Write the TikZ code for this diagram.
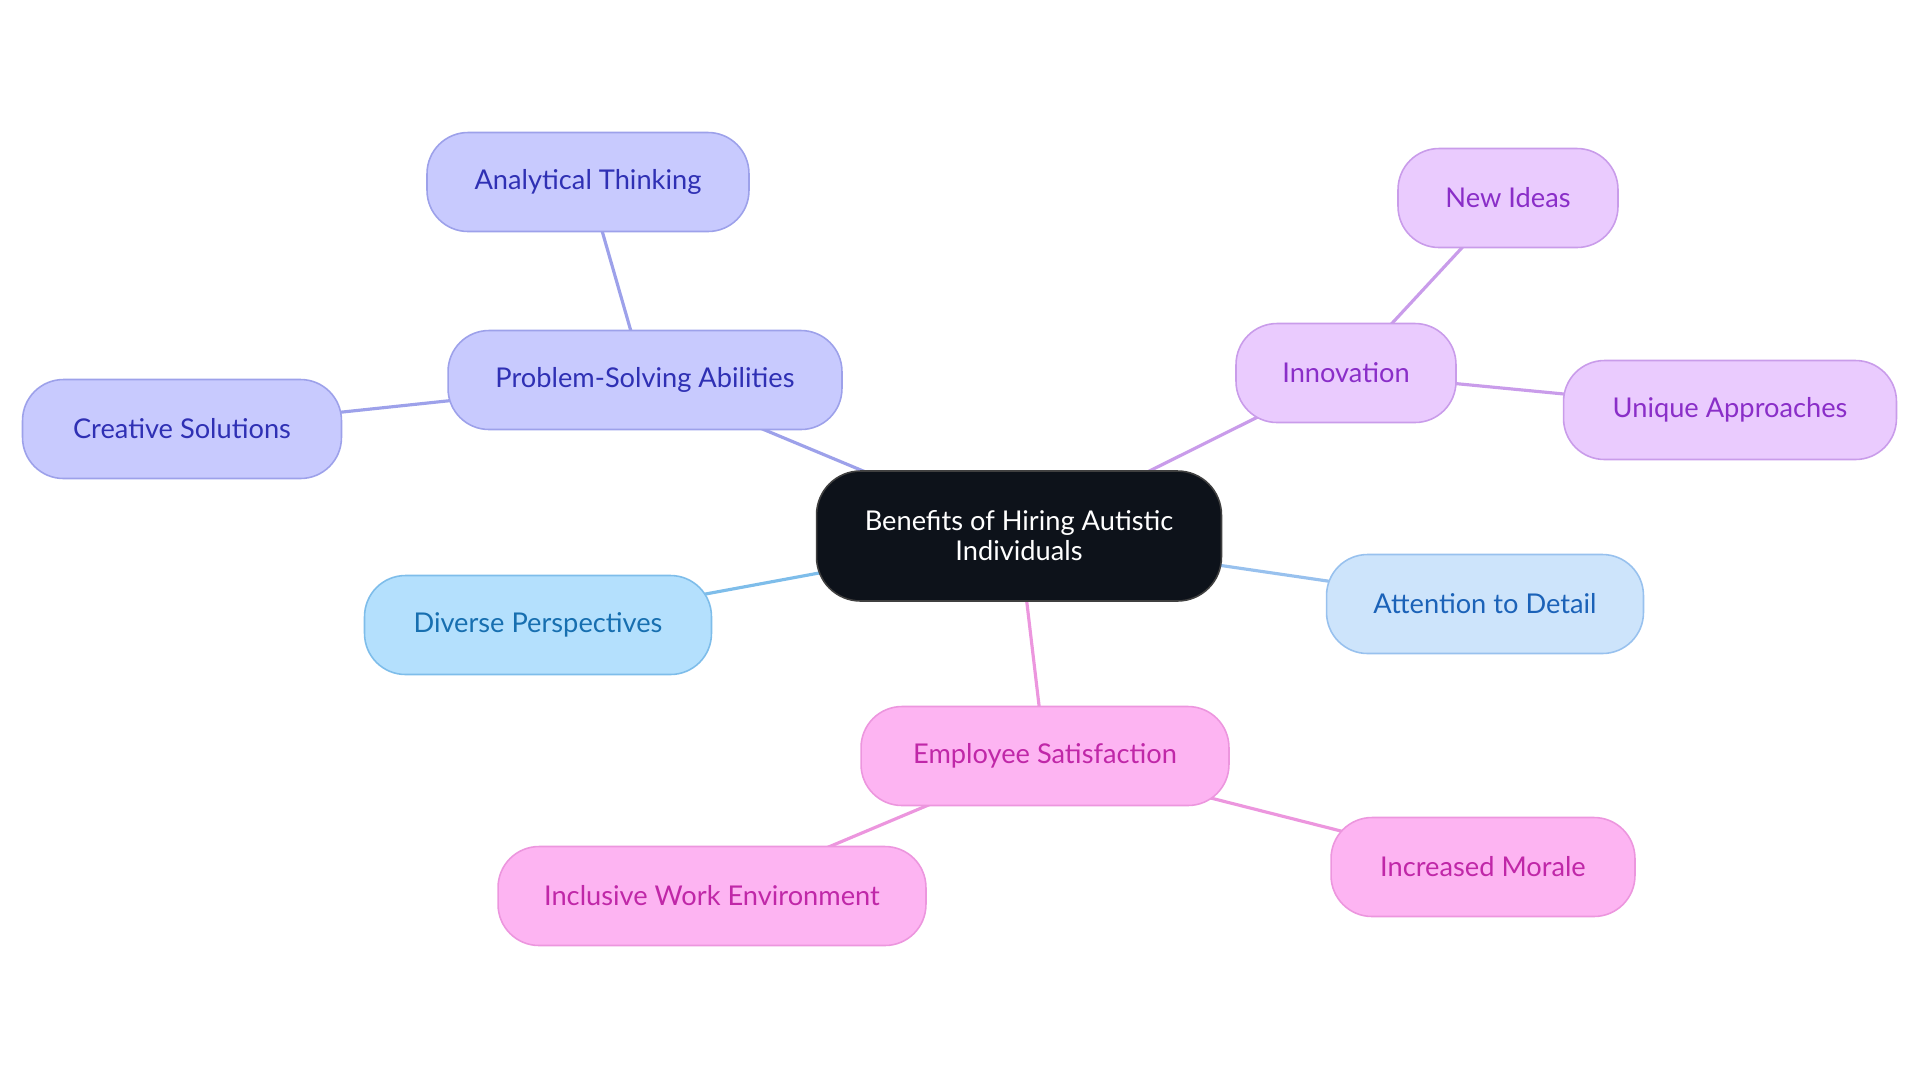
\documentclass[tikz,border=0pt]{standalone}
\usepackage{fontspec}
\setmainfont{Lato}
\usepackage{tikz}
\usetikzlibrary{backgrounds}

\definecolor{rootfill}{HTML}{0D121A}
\definecolor{indigofill}{HTML}{C8CAFE}
\definecolor{indigoline}{HTML}{9DA1EA}
\definecolor{indigotext}{HTML}{2F30B4}
\definecolor{violetfill}{HTML}{EACBFE}
\definecolor{violetline}{HTML}{C99CEA}
\definecolor{violettext}{HTML}{8A2EC8}
\definecolor{skyfill}{HTML}{B4E0FD}
\definecolor{skyline}{HTML}{7EBDEA}
\definecolor{skytext}{HTML}{176FB0}
\definecolor{paleblue}{HTML}{CDE4FB}
\definecolor{palebluel}{HTML}{98C1EE}
\definecolor{palebluet}{HTML}{1B62B8}
\definecolor{pinkfill}{HTML}{FDB4F2}
\definecolor{pinkline}{HTML}{EC96DE}
\definecolor{pinktext}{HTML}{C027A8}

\tikzset{
  bubble/.style={rectangle, rounded corners=0.82cm, line width=0.9pt,
    minimum height=1.98cm, inner sep=0pt,
    font=\fontsize{15.5}{18}\selectfont},
  root/.style={bubble, fill=rootfill, draw=black!75, text=white,
    rounded corners=0.88cm, minimum height=2.6cm, align=center,
    font=\fontsize{15.5}{17}\selectfont},
  indigo/.style={bubble, fill=indigofill, draw=indigoline, text=indigotext},
  violet/.style={bubble, fill=violetfill, draw=violetline, text=violettext},
  sky/.style={bubble, fill=skyfill, draw=skyline, text=skytext},
  pale/.style={bubble, fill=paleblue, draw=palebluel, text=palebluet},
  pink/.style={bubble, fill=pinkfill, draw=pinkline, text=pinktext},
  link/.style={line width=1.8pt}
}

\begin{document}
\begin{tikzpicture}[x=0.02cm, y=-0.02cm]
\useasboundingbox (0,0) rectangle (1920,1083);

% centre
\node [root, minimum width=8.1cm] (benefits) at (1019,536) {Benefits of Hiring Autistic\\Individuals};

% problem solving
\node [indigo, minimum width=7.88cm] (problem) at (645,380) {Problem-Solving Abilities};
\node [indigo, minimum width=6.44cm] (analytic) at (588,182) {Analytical Thinking};
\node [indigo, minimum width=6.38cm] (creative) at (182,429) {Creative Solutions};

% innovation
\node [violet, minimum width=4.4cm] (innov) at (1346,373) {Innovation};
\node [violet, minimum width=4.4cm] (ideas) at (1508,198) {New Ideas};
\node [violet, minimum width=6.66cm] (unique) at (1730,410) {Unique Approaches};

% perspectives and detail
\node [sky, minimum width=6.94cm] (diverse) at (538,625) {Diverse Perspectives};
\node [pale, minimum width=6.34cm] (detail) at (1485,604) {Attention to Detail};

% satisfaction
\node [pink, minimum width=7.36cm] (satisf) at (1045,756) {Employee Satisfaction};
\node [pink, minimum width=8.56cm] (inclusive) at (712,896) {Inclusive Work Environment};
\node [pink, minimum width=6.08cm] (morale) at (1483,867) {Increased Morale};

\begin{pgfonlayer}{background}
\draw [link, indigoline] (benefits.center) -- (problem.center);
\draw [link, indigoline] (problem.center) -- (analytic.center);
\draw [link, indigoline] (problem.center) -- (creative.center);
\draw [link, violetline] (benefits.center) -- (innov.center);
\draw [link, violetline] (innov.center) -- (ideas.center);
\draw [link, violetline] (innov.center) -- (unique.center);
\draw [link, skyline] (benefits.center) -- (diverse.center);
\draw [link, palebluel] (benefits.center) -- (detail.center);
\draw [link, pinkline] (benefits.center) -- (satisf.center);
\draw [link, pinkline] (satisf.center) -- (inclusive.center);
\draw [link, pinkline] (satisf.center) -- (morale.center);
\end{pgfonlayer}
\end{tikzpicture}
\end{document}
